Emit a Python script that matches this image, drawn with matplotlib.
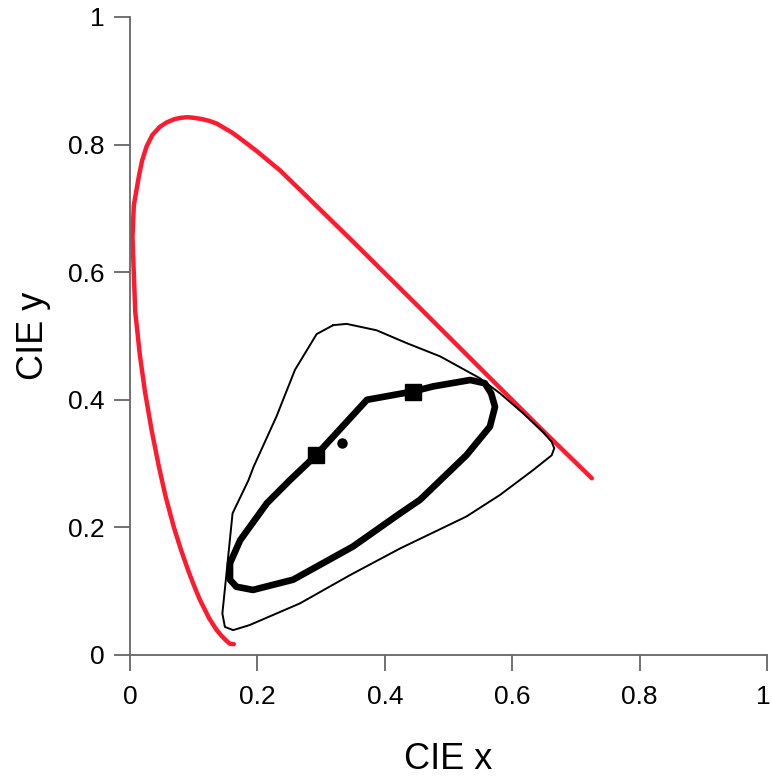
import matplotlib
matplotlib.use("Agg")
import matplotlib.pyplot as plt
import matplotlib.transforms as mtransforms

plt.rcParams['font.family'] = ['Liberation Sans', 'DejaVu Sans']

# spectral locus (red)
locus_x = [0.163, 0.1566, 0.1510, 0.1440, 0.1355, 0.1241, 0.1096, 0.100, 0.0913,
           0.080, 0.0687, 0.056, 0.0454, 0.034, 0.0235, 0.0155, 0.0082, 0.0039,
           0.0060, 0.0139, 0.019, 0.026, 0.035, 0.047, 0.058, 0.070, 0.080, 0.090,
           0.100, 0.113, 0.125, 0.136, 0.148, 0.160, 0.171, 0.183, 0.200, 0.218,
           0.235, 0.267, 0.350, 0.450, 0.5752, 0.650, 0.725]
locus_y = [0.017, 0.0177, 0.0227, 0.0297, 0.0399, 0.0578, 0.0868, 0.110, 0.1327,
           0.165, 0.2007, 0.248, 0.2950, 0.352, 0.4127, 0.470, 0.5384, 0.6548,
           0.705, 0.7502, 0.775, 0.797, 0.815, 0.828, 0.835, 0.840, 0.842, 0.843,
           0.842, 0.840, 0.837, 0.833, 0.826, 0.819, 0.811, 0.802, 0.789, 0.774,
           0.760, 0.729, 0.648, 0.549, 0.4242, 0.350, 0.277]

# thin outer gamut outline
gamut_x = [0.319, 0.340, 0.387, 0.434, 0.487, 0.549, 0.581, 0.617, 0.649, 0.662,
           0.666, 0.662, 0.633, 0.581, 0.528, 0.424, 0.345, 0.267, 0.188, 0.162,
           0.149, 0.145, 0.152, 0.161, 0.186, 0.194, 0.230, 0.259, 0.293, 0.319]
gamut_y = [0.517, 0.519, 0.509, 0.489, 0.468, 0.434, 0.410, 0.379, 0.349, 0.334,
           0.324, 0.313, 0.290, 0.251, 0.217, 0.167, 0.125, 0.081, 0.047, 0.039,
           0.044, 0.065, 0.133, 0.222, 0.274, 0.295, 0.374, 0.447, 0.503, 0.517]

# thick inner loop
loop_x = [0.292, 0.372, 0.444, 0.476, 0.534, 0.557, 0.567, 0.573, 0.565, 0.528,
          0.455, 0.424, 0.350, 0.256, 0.193, 0.167, 0.157, 0.157, 0.173, 0.215,
          0.251, 0.292]
loop_y = [0.313, 0.400, 0.413, 0.421, 0.431, 0.426, 0.410, 0.389, 0.358, 0.313,
          0.243, 0.222, 0.170, 0.118, 0.102, 0.107, 0.118, 0.144, 0.180, 0.238,
          0.274, 0.313]

# square markers and white point
square_x = [0.292, 0.444]
square_y = [0.313, 0.413]
white_x = [0.333]
white_y = [0.333]

ticks = [0, 0.2, 0.4, 0.6, 0.8, 1]
tick_labels = ['0', '0.2', '0.4', '0.6', '0.8', '1']

fig = plt.figure(figsize=(7.72, 7.78), dpi=100)
ax = fig.add_axes([130 / 772, 123 / 778, 637 / 772, 638 / 778])

ax.plot(locus_x, locus_y, color='#ff1a2e', lw=3.2, solid_capstyle='round',
        solid_joinstyle='round')
ax.plot(gamut_x, gamut_y, color='black', lw=1.4, solid_joinstyle='round')
ax.plot(loop_x, loop_y, color='black', lw=4.8, solid_joinstyle='round')
ax.plot(square_x, square_y, 's', color='black', ms=11.5)
ax.plot(white_x, white_y, 'o', color='black', ms=6.5)

ax.set_xlim(0, 1)
ax.set_ylim(0, 1)
ax.set_xticks(ticks)
ax.set_xticklabels(tick_labels)
ax.set_yticks(ticks)
ax.set_yticklabels(tick_labels)

for side in ['top', 'right']:
    ax.spines[side].set_visible(False)
for side in ['left', 'bottom']:
    ax.spines[side].set_color('#666666')
    ax.spines[side].set_linewidth(1.3)

ax.tick_params(axis='both', direction='out', length=11.5, width=1.3,
               color='#666666', labelsize=19)
ax.tick_params(axis='x', pad=10)
ax.tick_params(axis='y', pad=7)

# the last x label sits on the figure edge, nudge it inside
last = ax.get_xticklabels()[-1]
last.set_horizontalalignment('right')
last.set_transform(last.get_transform() +
                   mtransforms.ScaledTranslation(4 / 100, 0, fig.dpi_scale_trans))

ax.set_xlabel('CIE x', fontsize=26, labelpad=24)
ax.set_ylabel('CIE y', fontsize=26, labelpad=12)

fig.savefig('out.png', dpi=100)
